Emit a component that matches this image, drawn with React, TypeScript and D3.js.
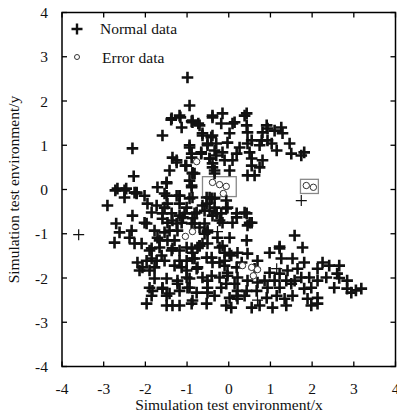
import React from "react";
import * as d3 from "d3";

const xTicks = [-4, -3, -2, -1, 0, 1, 2, 3, 4];
const yTicks = [-4, -3, -2, -1, 0, 1, 2, 3, 4];
const xTitle = "Simulation test environment/x";
const yTitle = "Simulation test environment/y";
const legendLabels = ["Normal data", "Error data"];

// Normal data (bold plus markers)
const normalPoints: [number, number][] = [
  [-0.99, 2.53], [-0.94, 1.9], [-1.38, 1.58], [-1.16, 1.63], [-1.13, 1.4], [-0.89, 1.54], [-0.73, 1.49],
  [-0.39, 1.63], [-1.59, 1.22], [-2.31, 0.93], [-2.28, 0.3], [-0.63, 1.22], [-0.42, 1.18], [-0.94, 0.95],
  [-0.51, 1.0], [-0.66, 0.81], [-1.35, 0.72], [-1.25, 0.61], [-1.04, 0.54], [-0.89, 0.81], [-0.46, 0.7],
  [-0.3, 0.77], [-1.42, 0.43], [-0.87, 0.36], [-0.39, 0.5], [-1.49, 0.16], [-0.34, 0.36],
  [-0.39, 1.67], [-0.15, 1.72], [0.38, 1.67], [-0.87, 1.52], [-0.7, 1.45], [-0.18, 1.49], [0.09, 1.49],
  [0.43, 1.45], [-0.63, 1.27], [-0.39, 1.22], [0.02, 1.27], [0.45, 1.29], [0.81, 1.29], [0.93, 1.38],
  [1.1, 1.33], [1.26, 1.4], [1.29, 1.27], [0.79, 1.11], [0.93, 1.11], [-0.03, 1.06], [0.26, 0.95],
  [0.45, 1.04], [0.55, 1.11], [-0.3, 1.04], [-0.51, 1.04], [-0.94, 1.0], [-0.66, 0.84], [-0.34, 0.88],
  [-0.15, 0.84], [0.19, 0.81], [0.5, 0.84], [0.74, 1.0], [1.03, 1.04], [1.15, 0.88], [1.46, 1.04],
  [1.5, 0.81], [1.81, 0.84], [1.74, 0.77], [-0.46, 0.7], [-0.1, 0.66], [0.09, 0.66], [0.55, 0.7],
  [0.81, 0.66], [-1.02, 0.54], [-0.39, 0.59], [-0.87, 0.38], [-0.34, 0.43], [0.02, 0.43], [0.55, 0.54],
  [0.74, 0.5], [0.45, 0.32], [0.62, 0.32], [-0.94, 0.2], [0.43, 1.72], [0.14, 1.52], [0.91, 1.45],
  [-1.37, 1.61], [-1.18, 1.67], [-0.87, 1.56],
  [-0.94, -0.2], [-0.87, -0.18], [-0.41, -0.2], [-0.53, -0.32], [-0.06, -0.25], [-0.34, -0.41],
  [-0.06, -0.43], [0.19, -0.54], [0.38, -0.52], [0.5, -0.75], [0.45, -0.81], [-0.22, -0.7], [-0.39, -0.59],
  [-1.1, -0.63], [-0.87, -0.65], [1.58, -1.04], [0.43, -1.15], [-0.15, -1.27], [1.22, -1.29], [1.77, -1.31],
  [-0.7, -1.27],
  [-2.91, -0.36], [-2.72, -0.02], [-2.46, 0.02], [-2.5, -0.18], [-2.21, -0.09], [-2.02, -0.14], [-1.95, -0.32],
  [-1.71, 0.05], [-1.49, 0.14], [-1.54, -0.09], [-1.73, -0.36], [-1.47, -0.32], [-1.25, -0.14], [-1.18, -0.32],
  [-0.89, 0.09], [-1.01, -0.41], [-0.82, -0.54], [-0.63, -0.36], [-0.53, -0.18], [-0.18, -0.54],
  [-0.03, -0.41], [0.19, -0.63], [-1.85, -0.52], [-1.59, -0.54], [-1.37, -0.54], [-1.18, -0.59],
  [-2.7, -0.77], [-2.62, -0.97], [-2.33, -0.93], [-2.38, -1.09], [-2.74, -1.2], [-2.26, -1.22], [-2.09, -1.22],
  [-1.97, -0.77], [-1.78, -0.93], [-1.71, -1.09], [-1.54, -0.97], [-1.42, -0.93], [-1.3, -1.15], [-1.25, -0.77],
  [-1.47, -0.75], [-0.89, -0.77], [-0.7, -0.86], [-0.51, -0.93],
  [-1.9, -1.38], [-1.66, -1.31], [-1.61, -1.49], [-1.37, -1.38], [-1.18, -1.38], [-1.01, -1.31], [-0.87, -1.43],
  [-0.75, -1.31], [-0.63, -1.22], [-0.22, -1.31], [-0.1, -1.43], [0.06, -1.49],
  [-2.19, -1.65], [-2.07, -1.76], [-1.85, -1.56], [-1.78, -1.76], [-1.54, -1.61], [-1.3, -1.72], [-1.13, -1.76],
  [-1.01, -1.61], [-0.82, -1.56], [-0.75, -1.76], [-0.53, -1.54], [-0.39, -1.65], [-0.1, -1.72], [-0.03, -1.88],
  [0.19, -1.76], [-1.78, -2.01], [-1.49, -2.01], [-1.23, -2.06], [-1.01, -1.99], [-0.63, -1.99], [-0.51, -2.06],
  [-1.9, -2.22], [-1.83, -2.29], [-1.59, -2.24], [-1.49, -2.4], [-1.18, -2.29], [-0.99, -2.22], [-0.77, -2.33],
  [-0.51, -2.22], [-0.34, -2.4], [-0.18, -2.22], [-0.06, -2.13], [0.14, -2.13], [-1.97, -2.58], [-1.49, -2.62],
  [-1.35, -2.62], [-0.89, -2.58], [-0.53, -2.58], [-0.06, -2.62], [0.06, -2.67], [0.19, -2.4],
  [0.43, -0.54], [0.55, -0.75], [-0.51, -0.97], [0.21, -1.43], [0.02, -1.45], [0.45, -1.45], [0.98, -1.43],
  [1.22, -1.33], [1.26, -1.56], [1.53, -1.56], [1.81, -1.65], [-0.41, -1.54], [-0.22, -1.65],
  [-0.1, -1.61], [0.31, -1.65], [0.69, -1.61], [0.62, -1.79], [0.98, -1.88], [1.22, -1.9], [1.41, -1.83],
  [1.65, -1.79], [1.74, -1.99], [1.93, -1.99], [2.25, -1.65], [2.13, -1.79], [2.41, -1.72], [2.65, -1.72],
  [2.34, -1.99], [2.6, -1.9], [2.65, -2.0], [2.84, -2.06], [2.53, -2.22], [2.84, -2.24],
  [-0.41, -1.95], [-0.22, -1.99], [-0.03, -1.95], [0.21, -1.99], [0.45, -2.06], [0.69, -2.1], [0.86, -2.06],
  [1.1, -2.06], [1.38, -2.06], [1.58, -2.06], [0.93, -2.22], [1.22, -2.22], [1.5, -2.13], [1.81, -2.24],
  [1.98, -2.22], [2.13, -2.06], [0.21, -2.29], [0.43, -2.29], [0.67, -2.29], [0.02, -2.45], [0.21, -2.47],
  [0.38, -2.4], [0.91, -2.45], [1.15, -2.4], [1.34, -2.47], [1.53, -2.4], [2.13, -2.45], [1.89, -2.47],
  [-0.51, -2.33], [0.55, -2.67], [0.74, -2.62], [1.05, -2.67], [1.38, -2.62], [1.98, -2.62], [2.13, -2.58],
  [3.18, -2.24], [2.94, -2.33], [3.05, -2.28],
  [-2.26, -0.07], [-1.49, -0.14], [-1.18, -0.14], [-1.54, -0.41], [-1.06, -0.54], [-0.77, -0.52], [-0.58, -0.48],
  [-2.31, -0.59], [-2.02, -0.75], [-1.59, -0.66], [-1.35, -0.7], [-1.13, -0.75], [-0.82, -0.77], [-1.23, -0.93],
  [-0.58, -1.0], [-1.66, -1.15], [-1.47, -1.15], [-1.85, -1.33], [-1.35, -1.33], [-0.89, -1.33], [-0.7, -1.27],
  [-1.97, -1.61], [-1.73, -1.61], [-1.18, -1.61], [-0.87, -1.56], [-2.14, -1.83], [-1.9, -1.83], [-1.01, -1.83],
  [-0.77, -1.79], [-1.23, -2.13], [-0.94, -2.01], [-1.59, -2.22], [-1.85, -2.4], [-1.42, -2.35], [-0.94, -2.22],
  [-1.18, -2.62], [-0.87, -2.51],
  [-0.46, -0.18], [-0.34, -0.2], [-0.46, -0.48], [-0.29, -0.54], [-0.15, -0.75], [0.09, -0.75], [-0.58, -0.77],
  [-0.51, -1.22], [-0.27, -1.09], [0.02, -1.09],
  [-2.67, 0.02], [-2.5, -0.02], [-2.21, -0.07], [-1.18, -0.14], [-0.89, 0.05], [-1.25, 0.66], [-0.89, 0.72],
  [-0.82, 0.36],
];

// Thin plus markers (lighter strokes)
const thinPoints: [number, number][] = [
  [-3.6, -1.02], [1.74, -0.25], [1.15, -1.79], [0.69, -2.5], [-0.27, -0.95],
];

// Error data (open circles)
const errorPoints: [number, number][] = [
  [-0.77, 0.63], [-0.39, 0.16], [-0.22, 0.11], [-0.06, 0.07], [-0.13, -0.09],
  [1.86, 0.09], [2.03, 0.05], [-1.04, -1.06], [-0.87, -0.95], [0.33, -1.72],
  [0.55, -1.76], [0.69, -1.81], [0.59, -1.95],
];

// Highlight boxes around error data groups [x0, y0, x1, y1]
const boxes: [number, number, number, number][] = [
  [-0.63, 0.29, 0.18, -0.16],
  [1.72, 0.23, 2.15, -0.09],
];

const W = 397;
const H = 418;
const x = d3.scaleLinear().domain([-4, 4]).range([62, 395.5]);
const y = d3.scaleLinear().domain([-4, 4]).range([366.5, 12.5]);

const font = "'Liberation Serif', 'Times New Roman', serif";

function Plus({ cx, cy, s, w }: { cx: number; cy: number; s: number; w: number }) {
  return (
    <path
      d={`M${cx - s},${cy}H${cx + s}M${cx},${cy - s}V${cy + s}`}
      stroke="#111"
      strokeWidth={w}
      fill="none"
    />
  );
}

export default function App() {
  const tickLen = 5;
  const fs = 15.5;
  return (
    <svg
      width={W}
      height={H}
      style={{ position: "absolute", left: 0, top: 0, background: "#fff" }}
      fontFamily={font}
    >
      <rect x={0} y={0} width={W} height={H} fill="#fff" />
      {boxes.map((b, i) => (
        <rect
          key={"b" + i}
          x={x(b[0])}
          y={y(b[1])}
          width={x(b[2]) - x(b[0])}
          height={y(b[3]) - y(b[1])}
          fill="none"
          stroke="#888"
          strokeWidth={1.3}
        />
      ))}
      {normalPoints.map((p, i) => (
        <Plus key={"n" + i} cx={x(p[0])} cy={y(p[1])} s={5.8} w={2.6} />
      ))}
      {thinPoints.map((p, i) => (
        <Plus key={"t" + i} cx={x(p[0])} cy={y(p[1])} s={5.5} w={1.2} />
      ))}
      {errorPoints.map((p, i) => (
        <circle key={"e" + i} cx={x(p[0])} cy={y(p[1])} r={3.2} fill="#fff" stroke="#333" strokeWidth={1} />
      ))}
      <rect
        x={x(-4)}
        y={y(4)}
        width={x(4) - x(-4)}
        height={y(-4) - y(4)}
        fill="none"
        stroke="#000"
        strokeWidth={1.5}
      />
      {xTicks.map((t) => (
        <g key={"xt" + t}>
          <line x1={x(t)} x2={x(t)} y1={y(-4)} y2={y(-4) - tickLen} stroke="#000" strokeWidth={1.3} />
          <line x1={x(t)} x2={x(t)} y1={y(4)} y2={y(4) + tickLen} stroke="#000" strokeWidth={1.3} />
          <text x={x(t)} y={393.5} fontSize={fs} textAnchor="middle" fill="#111">
            {t}
          </text>
        </g>
      ))}
      {yTicks.map((t) => (
        <g key={"yt" + t}>
          <line x1={x(-4)} x2={x(-4) + tickLen} y1={y(t)} y2={y(t)} stroke="#000" strokeWidth={1.3} />
          <line x1={x(4)} x2={x(4) - tickLen} y1={y(t)} y2={y(t)} stroke="#000" strokeWidth={1.3} />
          <text x={48} y={y(t) + 5.5} fontSize={fs} textAnchor="end" fill="#111">
            {t}
          </text>
        </g>
      ))}
      <text x={229} y={410} fontSize={fs} textAnchor="middle" fill="#111">
        {xTitle}
      </text>
      <text
        transform={`translate(19,${y(0)}) rotate(-90)`}
        fontSize={fs}
        textAnchor="middle"
        fill="#111"
      >
        {yTitle}
      </text>
      <Plus cx={77} cy={29} s={5.5} w={2.4} />
      <text x={100} y={34} fontSize={fs} fill="#111">
        {legendLabels[0]}
      </text>
      <circle cx={77} cy={57} r={2.5} fill="#fff" stroke="#333" strokeWidth={1} />
      <text x={102} y={63} fontSize={fs} fill="#111">
        {legendLabels[1]}
      </text>
    </svg>
  );
}
